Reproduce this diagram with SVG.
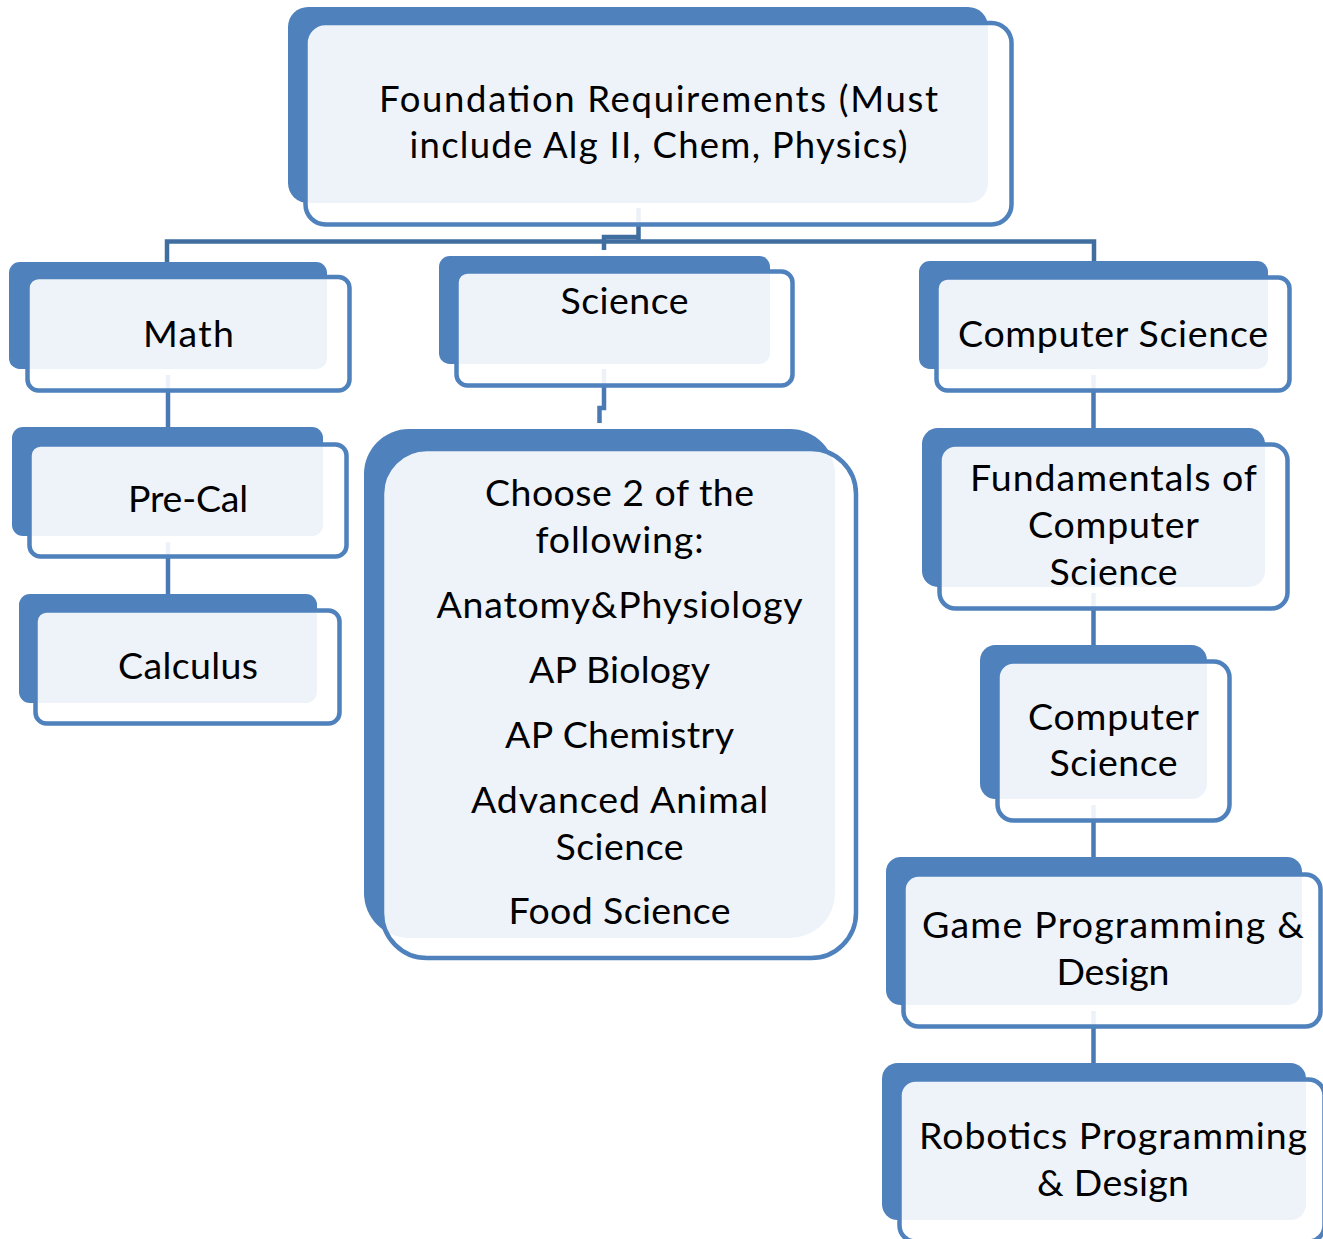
<svg xmlns="http://www.w3.org/2000/svg" width="1323" height="1239" viewBox="0 0 1323 1239">
<style>
.back{fill:#4F81BD}
.front{fill:#FFFFFF;fill-opacity:0.9;stroke:#4F81BD;stroke-width:4.5}
.t{font-family:Lato,"Noto Sans",sans-serif;font-size:37.5px;fill:#000;text-anchor:middle}
.t2{font-size:36.5px}
.bus{fill:none;stroke:#3F6E9F;stroke-width:4.5}
.link{fill:none;stroke:#4A7AB3;stroke-width:4.5}
</style>
<rect width="1323" height="1239" fill="#FFFFFF"/>
<g id="connectors">
<path class="bus" d="M638.5,208 V241.5 M167,262 V241.5 H1094 V262"/>
<path class="bus" d="M638.5,237 H604 V250"/>
<path class="link" d="M604,369 V408 H599.5 V423"/>
<path class="link" d="M168,375 V427"/>
<path class="link" d="M168,542 V594"/>
<path class="link" d="M1093.5,375 V428"/>
<path class="link" d="M1093.5,593 V645"/>
<path class="link" d="M1093.5,805 V857"/>
<path class="link" d="M1093.5,1011 V1063"/>
</g>
<g id="node-foundation">
<rect class="back" x="288" y="7" width="700" height="196" rx="20"/>
<rect class="front" x="305.5" y="23" width="706" height="201.5" rx="20"/>
<text class="t t2" x="658.5" y="112" textLength="559" lengthAdjust="spacing">Foundation Requirements (Must</text>
<text class="t t2" x="658.5" y="158" textLength="498" lengthAdjust="spacing">include Alg II, Chem, Physics)</text>
</g>
<g id="node-math">
<rect class="back" x="9" y="262" width="318" height="107" rx="10.7"/>
<rect class="front" x="27.5" y="277" width="322" height="113.5" rx="11"/>
<text class="t" x="188.5" y="347" textLength="91" lengthAdjust="spacing">Math</text>
</g>
<g id="node-science">
<rect class="back" x="439" y="256" width="331" height="108" rx="10.8"/>
<rect class="front" x="456.5" y="271.5" width="336" height="114" rx="11"/>
<text class="t" x="624.5" y="314" textLength="128" lengthAdjust="spacing">Science</text>
</g>
<g id="node-cs">
<rect class="back" x="919" y="261" width="349" height="108" rx="10.8"/>
<rect class="front" x="936.5" y="277.5" width="353" height="113" rx="11"/>
<text class="t" x="1113" y="347" textLength="310" lengthAdjust="spacing">Computer Science</text>
</g>
<g id="node-precal">
<rect class="back" x="12" y="427" width="311" height="109" rx="10.9"/>
<rect class="front" x="29.5" y="444.5" width="317" height="112" rx="11"/>
<text class="t" x="188" y="512" textLength="120" lengthAdjust="spacing">Pre-Cal</text>
</g>
<g id="node-calculus">
<rect class="back" x="19" y="594" width="298" height="109" rx="10.9"/>
<rect class="front" x="35.5" y="610.5" width="304" height="113" rx="11"/>
<text class="t" x="188" y="679" textLength="140" lengthAdjust="spacing">Calculus</text>
</g>
<g id="node-fundamentals">
<rect class="back" x="922" y="428" width="343" height="159" rx="15.9"/>
<rect class="front" x="939.5" y="444.5" width="348" height="164" rx="16"/>
<text class="t" x="1113.5" y="491" textLength="287" lengthAdjust="spacing">Fundamentals of</text>
<text class="t" x="1113.5" y="538" textLength="171" lengthAdjust="spacing">Computer</text>
<text class="t" x="1113.5" y="585" textLength="128" lengthAdjust="spacing">Science</text>
</g>
<g id="node-cs2">
<rect class="back" x="980" y="645" width="227" height="154" rx="15.4"/>
<rect class="front" x="997.5" y="661.5" width="232" height="159" rx="16"/>
<text class="t" x="1113.5" y="730" textLength="171" lengthAdjust="spacing">Computer</text>
<text class="t" x="1113.5" y="776" textLength="128" lengthAdjust="spacing">Science</text>
</g>
<g id="node-game">
<rect class="back" x="886" y="857" width="416" height="148" rx="14.8"/>
<rect class="front" x="903.5" y="874.5" width="417" height="152" rx="15"/>
<text class="t" x="1113" y="938" textLength="382" lengthAdjust="spacing">Game Programming &amp;</text>
<text class="t" x="1113" y="985" textLength="113" lengthAdjust="spacing">Design</text>
</g>
<g id="node-robotics">
<rect class="back" x="882" y="1063" width="424" height="157" rx="15.7"/>
<rect class="front" x="899.5" y="1079.5" width="425" height="162" rx="16"/>
<text class="t" x="1113" y="1149" textLength="388" lengthAdjust="spacing">Robotics Programming</text>
<text class="t" x="1113" y="1196" textLength="152" lengthAdjust="spacing">&amp; Design</text>
</g>
<g id="node-choose">
<rect class="back" x="364" y="429" width="471" height="509" rx="45"/>
<rect class="front" x="382" y="449" width="474" height="509" rx="45"/>
<text class="t" x="619.5" y="506" textLength="269" lengthAdjust="spacing">Choose 2 of the</text>
<text class="t" x="619.5" y="553" textLength="168" lengthAdjust="spacing">following:</text>
<text class="t" x="619.5" y="618" textLength="366" lengthAdjust="spacing">Anatomy&amp;Physiology</text>
<text class="t" x="619.5" y="683" textLength="181" lengthAdjust="spacing">AP Biology</text>
<text class="t" x="619.5" y="748" textLength="229" lengthAdjust="spacing">AP Chemistry</text>
<text class="t" x="619.5" y="813" textLength="297" lengthAdjust="spacing">Advanced Animal</text>
<text class="t" x="619.5" y="860" textLength="128" lengthAdjust="spacing">Science</text>
<text class="t" x="619.5" y="924" textLength="222" lengthAdjust="spacing">Food Science</text>
</g>
</svg>
